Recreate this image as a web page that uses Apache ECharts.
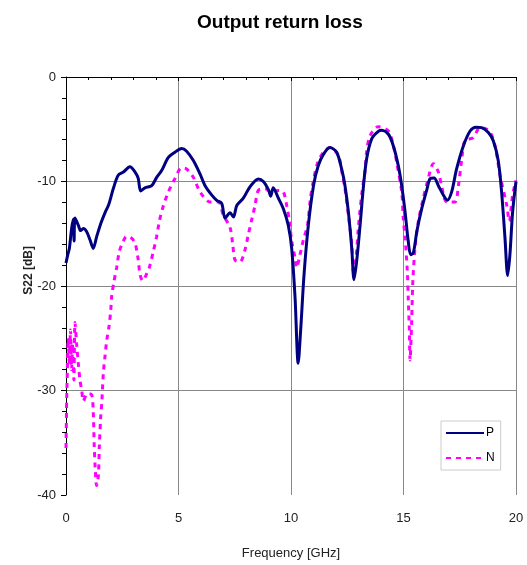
<!DOCTYPE html>
<html>
<head>
<meta charset="utf-8">
<script src="https://cdn.jsdelivr.net/npm/echarts@6/dist/echarts.min.js"></script>
<style>
  html, body { margin: 0; padding: 0; background: #fff; }
  #chart { width: 527px; height: 565px; }
</style>
</head>
<body>
<div id="chart"></div>
<script>
// P curve: frequency (GHz) and S22 (dB)
const pFreq = [0, 0.08, 0.15, 0.25, 0.33, 0.36, 0.4, 0.55, 0.65, 0.77, 0.92, 1.07, 1.21, 1.36, 1.55, 1.75, 1.9, 2.1, 2.32, 2.55, 2.84, 3.07, 3.21, 3.32, 3.51, 3.81, 4.03, 4.25, 4.55, 4.84, 5.14, 5.36, 5.66, 5.96, 6.18, 6.48, 6.7, 6.92, 7.07, 7.29, 7.44, 7.59, 7.88, 8.18, 8.55, 8.77, 9.0, 9.1, 9.21, 9.44, 9.66, 9.88, 10.03, 10.18, 10.32, 10.43, 10.58, 10.77, 11.0, 11.21, 11.44, 11.73, 12.03, 12.25, 12.4, 12.55, 12.7, 12.8, 12.92, 13.07, 13.21, 13.36, 13.59, 13.88, 14.03, 14.33, 14.55, 14.77, 14.92, 15.07, 15.21, 15.32, 15.44, 15.59, 15.81, 16.03, 16.18, 16.36, 16.55, 16.77, 16.95, 17.14, 17.36, 17.66, 17.96, 18.22, 18.47, 18.77, 18.99, 19.21, 19.36, 19.51, 19.63, 19.73, 19.85, 20];
const pVal = [-17.8, -17, -16.4, -14.5, -13.6, -15.7, -13.5, -14.2, -14.7, -14.5, -14.8, -15.6, -16.4, -15.3, -14.0, -12.9, -12.2, -10.7, -9.4, -9.1, -8.6, -9.1, -9.7, -10.9, -10.6, -10.4, -9.6, -8.95, -7.7, -7.2, -6.85, -7.1, -8.0, -9.3, -10.4, -11.3, -11.8, -12.1, -13.5, -13.0, -13.4, -12.3, -11.6, -10.5, -9.75, -10.0, -10.8, -11.4, -10.6, -11.6, -12.6, -14.2, -16.4, -21.1, -27.4, -24.2, -18.9, -14.2, -10.4, -8.5, -7.4, -6.75, -7.2, -8.8, -10.4, -12.9, -16.4, -19.4, -17.6, -14.2, -10.7, -7.85, -5.9, -5.2, -5.1, -5.48, -6.6, -8.5, -10.4, -12.9, -15.7, -17.0, -16.8, -14.8, -12.6, -10.85, -9.74, -9.67, -10.4, -11.3, -11.8, -11.0, -8.8, -6.6, -5.17, -4.8, -4.85, -5.3, -6.1, -8.0, -11.0, -15.4, -19.0, -17.0, -12.9, -10.0];

// N curve
const nFreq = [0, 0.03, 0.06, 0.1, 0.15, 0.2, 0.25, 0.3, 0.35, 0.4, 0.47, 0.55, 0.62, 0.7, 0.77, 0.95, 1.14, 1.21, 1.25, 1.3, 1.36, 1.44, 1.48, 1.54, 1.59, 1.66, 1.73, 1.81, 1.91, 1.99, 2.03, 2.13, 2.25, 2.37, 2.55, 2.7, 2.9, 3.07, 3.21, 3.29, 3.41, 3.55, 3.7, 3.88, 4.03, 4.15, 4.33, 4.55, 4.84, 5.14, 5.36, 5.66, 5.96, 6.4, 6.77, 6.99, 7.29, 7.41, 7.51, 7.73, 7.96, 8.1, 8.25, 8.4, 8.55, 8.84, 9.14, 9.44, 9.66, 9.81, 9.93, 10.03, 10.18, 10.25, 10.4, 10.55, 10.73, 10.87, 11.0, 11.17, 11.44, 11.73, 12.1, 12.25, 12.4, 12.55, 12.7, 12.77, 12.89, 12.99, 13.14, 13.29, 13.36, 13.51, 13.88, 14.33, 14.55, 14.7, 14.92, 14.99, 15.07, 15.17, 15.21, 15.26, 15.29, 15.36, 15.41, 15.51, 15.66, 15.88, 16.06, 16.33, 16.55, 16.7, 16.92, 17.29, 17.44, 17.59, 17.73, 18.1, 18.4, 18.81, 19.07, 19.29, 19.59, 19.7, 19.85, 20];
const nVal = [-35.5, -31, -28, -25, -27.5, -24.2, -28, -25.5, -29, -23.5, -25.5, -27.5, -29, -30, -31, -30.3, -30.4, -32, -35, -37.5, -39.1, -38.1, -35.4, -32.6, -31.2, -28.3, -26.8, -25.2, -23.9, -22.3, -21.0, -19.6, -18.25, -16.7, -15.7, -15.25, -15.4, -15.9, -17.5, -18.9, -19.5, -19.0, -18.25, -16.7, -15.25, -13.8, -12.3, -11.0, -9.74, -8.7, -8.8, -9.6, -11.0, -11.95, -11.95, -13.2, -14.4, -16.0, -17.5, -17.7, -16.5, -15.1, -13.7, -12.3, -10.85, -10.7, -11.0, -10.85, -11.0, -12.3, -13.8, -15.7, -17.3, -18.25, -17.0, -15.6, -14.2, -11.5, -9.9, -8.3, -7.2, -6.75, -7.5, -8.95, -10.7, -13.2, -16.0, -18.6, -17.3, -14.5, -11.3, -8.95, -7.2, -5.64, -4.75, -5.17, -6.6, -8.2, -11.0, -13.5, -15.4, -18.6, -21.1, -24.2, -27.1, -23.6, -19.8, -16.4, -13.8, -11.6, -10.05, -8.3, -9.1, -10.5, -11.95, -11.95, -10.4, -7.85, -6.1, -5.8, -4.85, -5.17, -6.6, -9.4, -12.3, -13.8, -11.3, -9.9];

const seriesNames = ["P", "N"];

var chartDom = document.getElementById("chart");
var mychart = echarts.init(chartDom);

const axisFont = "Liberation Sans, Arial, sans-serif";

var option = {
  animation: false,
  title: {
    text: "Output return loss",
    left: 192,
    top: 8,
    textStyle: {
      fontFamily: "Liberation Sans Narrow, Liberation Sans, Arial, sans-serif",
      fontWeight: "bold",
      fontSize: 19,
      color: "#000",
    },
  },
  legend: {
    data: seriesNames,
    orient: "vertical",
    left: 441,
    top: 421,
    padding: [6, 6, 6, 4],
    itemWidth: 38,
    itemHeight: 12,
    itemGap: 13,
    borderColor: "#ccc",
    borderWidth: 1,
    itemStyle: { opacity: 0 },
    textStyle: { fontFamily: axisFont, fontSize: 12, color: "#000", padding: [0, 0, 0, -3] },
  },
  grid: { left: 66, right: 11, top: 77, bottom: 65 },
  xAxis: {
    type: "value",
    min: 0,
    max: 20,
    interval: 5,
    name: "Frequency [GHz]",
    nameLocation: "middle",
    nameGap: 52,
    nameTextStyle: { fontFamily: axisFont, fontSize: 13, color: "#222" },
    axisLine: { lineStyle: { color: "#000", width: 1 } },
    axisTick: { length: 4, lineStyle: { color: "#000" } },
    minorTick: { show: true, splitNumber: 5, length: 3, lineStyle: { color: "#000" } },
    axisLabel: { fontFamily: axisFont, fontSize: 13, color: "#222", margin: 17 },
    splitLine: { show: true, showMinLine: false, showMaxLine: true, lineStyle: { color: "#888", width: 1 } },
  },
  yAxis: {
    type: "value",
    min: -40,
    max: 0,
    interval: 10,
    axisLine: { show: true, lineStyle: { color: "#000", width: 1 } },
    axisTick: { show: true, length: 5, lineStyle: { color: "#000" } },
    minorTick: { show: true, splitNumber: 5, length: 4, lineStyle: { color: "#000" } },
    axisLabel: { fontFamily: axisFont, fontSize: 13, color: "#222", margin: 10 },
    splitLine: { show: true, showMinLine: false, showMaxLine: false, lineStyle: { color: "#888", width: 1 } },
  },
  graphic: [
    {
      type: "text",
      left: 23,
      top: 246,
      rotation: Math.PI / 2,
      style: {
        text: "S22 [dB]",
        font: "bold 12px Liberation Sans, Arial, sans-serif",
        fill: "#222",
      },
    },
  ],
  series: [
    {
      name: seriesNames[0],
      type: "line",
      data: pFreq.map((f, i) => [f, pVal[i]]),
      symbol: "none",
      smooth: 0.3,
      lineStyle: { color: "#000080", width: 3 },
      itemStyle: { color: "#000080" },
      z: 3,
    },
    {
      name: seriesNames[1],
      type: "line",
      data: nFreq.map((f, i) => [f, nVal[i]]),
      symbol: "none",
      smooth: 0.3,
      lineStyle: { color: "#ff00ff", width: 3, type: [5, 5] },
      itemStyle: { color: "#ff00ff" },
      z: 2,
    },
  ],
};

mychart.setOption(option);
</script>
</body>
</html>
